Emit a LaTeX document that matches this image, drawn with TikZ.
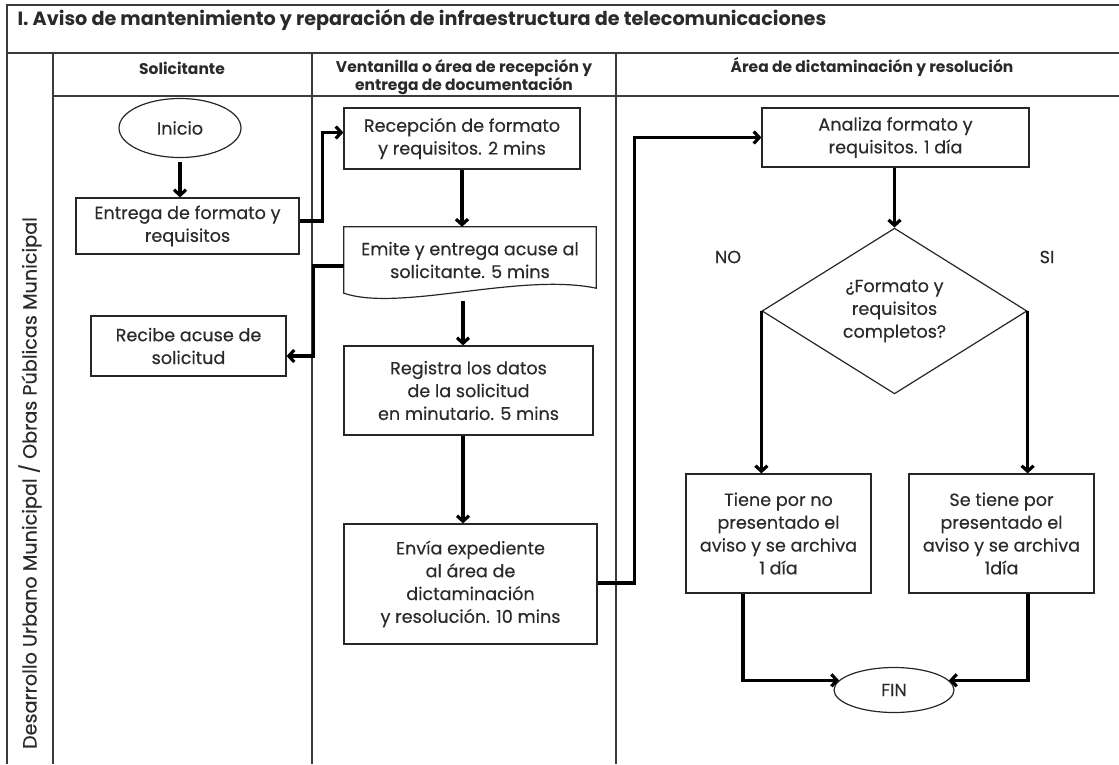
\documentclass[tikz,border=0pt]{standalone}
\usepackage{fontspec}
\setmainfont{Poppins}[UprightFeatures={FakeBold=0.35}]
\usetikzlibrary{shapes.geometric,arrows.meta,calc}
\definecolor{txt}{HTML}{2A2A2A}
\definecolor{frame}{HTML}{3A3A3A}
\tikzset{
  bodyfont/.style={font=\fontsize{17.6}{22.8}\selectfont},
  procbox/.style={draw=black!85,line width=1.2pt,rectangle,inner sep=0pt,align=center,text=txt,bodyfont},
  termnode/.style={draw=black!85,line width=1.2pt,ellipse,inner sep=0pt,align=center,text=txt,bodyfont},
  decnode/.style={draw=black!85,line width=1.2pt,diamond,inner sep=0pt,align=center,text=txt,bodyfont},
  flow/.style={line width=3.2pt,-{Straight Barb[length=5.5pt,width=12pt]}},
  gridline/.style={draw=frame,line width=1.3pt},
  headtxt/.style={font=\fontsize{15.5}{18}\selectfont\bfseries,text=txt,align=center},
  lbl/.style={text=txt,bodyfont}
}
\begin{document}
\begin{tikzpicture}[x=1pt,y=-1pt]
\useasboundingbox (0,0) rectangle (1119,764);
% frame
\draw[gridline] (7,764) -- (7,5) -- (1119,5);
\draw[gridline] (7,53) -- (1119,53);
\draw[gridline] (53,53) -- (53,764);
\draw[gridline] (53,96) -- (1119,96);
\draw[gridline] (312,53) -- (312,764);
\draw[gridline] (616,53) -- (616,764);
% title and headers
\node[anchor=west,text=txt,font=\fontsize{19.2}{22}\selectfont\bfseries] (title) at (14,20) {I. Aviso de mantenimiento y reparación de infraestructura de telecomunicaciones};
\node[headtxt] (h1) at (182,68) {Solicitante};
\node[headtxt] (h2) at (464,77) {Ventanilla o área de recepción y\\entrega de documentación};
\node[headtxt] (h3) at (872,67) {Área de dictaminación y resolución};
\node[rotate=90,text=txt,font=\fontsize{19.2}{22}\selectfont] (lane) at (30,483) {Desarrollo Urbano Municipal / Obras Públicas Municipal};
% nodes
\node[termnode,minimum width=122pt,minimum height=59pt] (Inicio) at (180,128) {Inicio};
\node[procbox,minimum width=223pt,minimum height=56pt] (Entrega) at (187.5,226) {Entrega de formato y\\requisitos};
\node[procbox,minimum width=195pt,minimum height=60pt] (Recibe) at (188.5,346) {Recibe acuse de\\solicitud};
\node[procbox,minimum width=236pt,minimum height=61pt] (Recepcion) at (462,138.5) {Recepción de formato\\y requisitos. 2 mins};
\node[rectangle,inner sep=0pt,align=center,text=txt,bodyfont,minimum width=252pt,minimum height=66pt] (Emite) at (470,260) {Emite y entrega acuse al\\solicitante. 5 mins};
\draw[draw=black!85,line width=1.2pt] (Emite.south west) -- (Emite.north west) -- (Emite.north east) -- ([yshift=5pt]Emite.south east)
  .. controls ([xshift=-76pt,yshift=21pt]Emite.south east) and ([xshift=56pt,yshift=-19pt]Emite.south west) .. (Emite.south west) -- cycle;
\node[procbox,minimum width=249pt,minimum height=89pt] (Registra) at (468.5,390.5) {Registra los datos\\de la solicitud\\en minutario. 5 mins};
\node[procbox,minimum width=253pt,minimum height=120pt] (Envia) at (470.5,584) {Envía expediente\\al área de\\dictaminación\\y resolución. 10 mins};
\node[procbox,minimum width=267pt,minimum height=59pt] (Analiza) at (895.5,137.5) {Analiza formato y\\requisitos. 1 día};
\node[decnode,minimum width=265pt,minimum height=160pt] (Dec) at (894.5,311) {¿Formato y\\requisitos\\completos?};
\node[procbox,minimum width=185pt,minimum height=119pt] (Tiene) at (778.5,533.5) {Tiene por no\\presentado el\\aviso y se archiva\\1 día};
\node[procbox,minimum width=185pt,minimum height=119pt] (SeTiene) at (1001.5,533.5) {Se tiene por\\presentado el\\aviso y se archiva\\1día};
\node[termnode,minimum width=120pt,minimum height=45pt] (Fin) at (894,690) {FIN};
\node[lbl] (no) at (728,257) {NO};
\node[lbl] (si) at (1047,257) {SI};
% connectors
\draw[flow,shorten <=4pt] (Inicio.south) -- (Inicio.south |- Entrega.north);
\draw[flow] ([yshift=5pt]Entrega.east) -- ++(23,0) |- ([yshift=6pt]Recepcion.west);
\draw[flow] (Recepcion.south) -- (Recepcion.south |- Emite.north);
\draw[flow] ([yshift=-6pt]Emite.west) -- ++(-30,0) |- ([yshift=-10pt]Recibe.east);
\draw[flow] ([xshift=-7pt,yshift=-8pt]Emite.south) -- ([xshift=-7pt]Emite.south |- Registra.north);
\draw[flow] ([xshift=-5.5pt]Registra.south) -- ([xshift=-5.5pt]Registra.south |- Envia.north);
\draw[flow] ([yshift=1pt]Envia.east) -- ++(37,0) |- (Analiza.west);
\draw[flow] (Analiza.south -| Dec.north) -- (Dec.north);
\draw[flow] (Dec.west) -- (Dec.west |- Tiene.north);
\draw[flow] (Dec.east) -- (Dec.east |- SeTiene.north);
\draw[flow] ([xshift=-35.5pt]Tiene.south) |- (Fin.170);
\draw[flow] ([xshift=26.5pt]SeTiene.south) |- (Fin.10);
\end{tikzpicture}
\end{document}
